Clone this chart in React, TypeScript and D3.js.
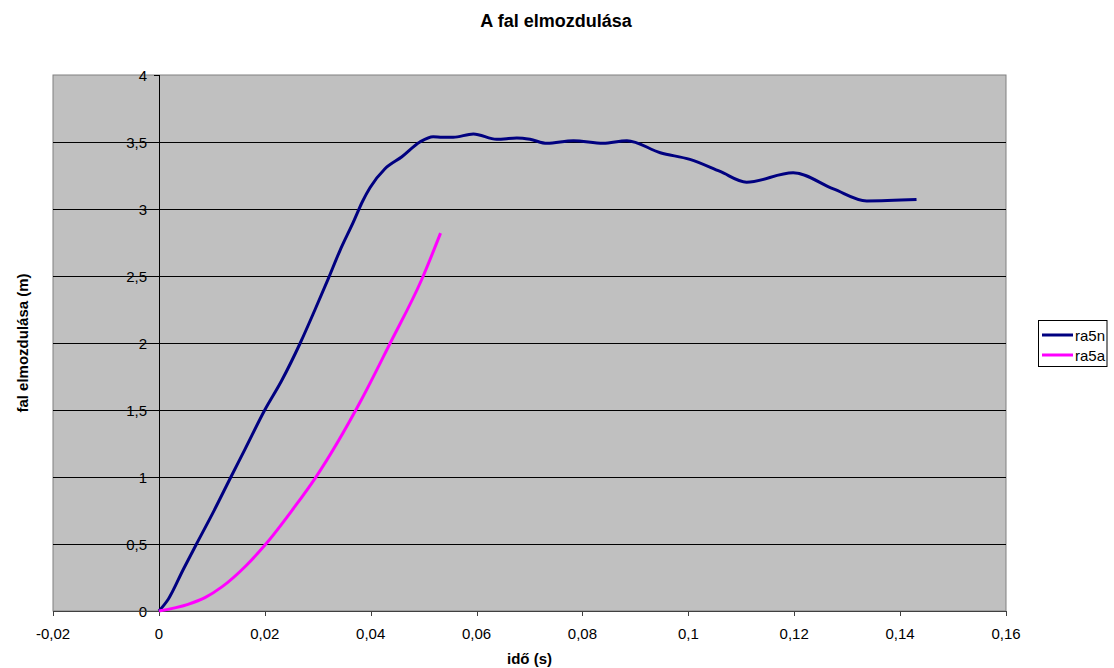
import React from "react";
import * as d3 from "d3";

const ra5nT = [0, 0.0018, 0.0046, 0.0071, 0.0103, 0.0136, 0.0163, 0.02, 0.0232, 0.0267, 0.0295, 0.032, 0.0342, 0.0367, 0.0385, 0.0399, 0.0427, 0.0459, 0.0493, 0.0518, 0.0535, 0.0556, 0.0594, 0.0638, 0.0676, 0.0701, 0.0733, 0.0783, 0.0839, 0.0884, 0.0947, 0.1003, 0.106, 0.111, 0.1198, 0.1274, 0.1337, 0.1431];
const ra5nY = [0, 0.09, 0.31, 0.5, 0.74, 1.0, 1.21, 1.5, 1.72, 2.0, 2.25, 2.48, 2.69, 2.9, 3.06, 3.16, 3.3, 3.39, 3.5, 3.54, 3.535, 3.535, 3.56, 3.52, 3.53, 3.52, 3.49, 3.51, 3.49, 3.51, 3.42, 3.37, 3.28, 3.2, 3.27, 3.15, 3.06, 3.07];

const ra5aT = [0, 0.0055, 0.0087, 0.0119, 0.0165, 0.02, 0.0257, 0.0295, 0.0383, 0.0437, 0.0496, 0.0532];
const ra5aY = [0, 0.05, 0.1, 0.18, 0.34, 0.49, 0.78, 0.99, 1.58, 2.0, 2.47, 2.82];

const xTicks = [-0.02, 0, 0.02, 0.04, 0.06, 0.08, 0.1, 0.12, 0.14, 0.16];
const yTicks = [0, 0.5, 1, 1.5, 2, 2.5, 3, 3.5, 4];

const seriesNames = ["ra5n", "ra5a"];
const seriesColors = ["#000080", "#FF00FF"];

const W = 1114;
const H = 668;
const PL = 53, PR = 1006, PT = 75, PB = 611;

const fmt = (v: number) => String(Math.round(v * 1000) / 1000).replace(".", ",");

export default function App() {
  const x = d3.scaleLinear().domain([-0.02, 0.16]).range([PL, PR]);
  const y = d3.scaleLinear().domain([0, 4]).range([PB, PT]);
  const line = d3
    .line<[number, number]>()
    .x((d) => x(d[0]))
    .y((d) => y(d[1]))
    .curve(d3.curveMonotoneX);
  const s1: [number, number][] = ra5nT.map((t, i) => [t, ra5nY[i]]);
  const s2: [number, number][] = ra5aT.map((t, i) => [t, ra5aY[i]]);
  const font = "'Liberation Sans', Arial, sans-serif";
  const x0 = x(0);
  return (
    <svg width={W} height={H} style={{ position: "absolute", left: 0, top: 0, background: "#fff" }} fontFamily={font}>
      <text x={556} y={27} textAnchor="middle" fontSize={18} fontWeight="bold">A fal elmozdulása</text>
      <rect x={PL} y={PT} width={PR - PL} height={PB - PT} fill="#C0C0C0" stroke="#808080" strokeWidth={1} />
      {yTicks.filter((v) => v > 0 && v < 4).map((v) => (
        <line key={"g" + v} x1={PL} x2={PR} y1={Math.round(y(v)) + 0.5} y2={Math.round(y(v)) + 0.5} stroke="#000" strokeWidth={1} />
      ))}
      <line x1={Math.round(x0) + 0.5} x2={Math.round(x0) + 0.5} y1={PT} y2={PB} stroke="#000" strokeWidth={1} />
      {yTicks.map((v) => (
        <g key={"yt" + v}>
          <line x1={Math.round(x0) - 5} x2={Math.round(x0) + 0.5} y1={Math.round(y(v)) + 0.5} y2={Math.round(y(v)) + 0.5} stroke="#000" />
          <text x={Math.round(x0) - 12} y={y(v) + 5.5} textAnchor="end" fontSize={15}>{fmt(v)}</text>
        </g>
      ))}
      <line x1={PL} x2={PR} y1={PB + 0.5} y2={PB + 0.5} stroke="#404040" strokeWidth={1} />
      {xTicks.map((v) => (
        <g key={"xt" + v}>
          <line x1={Math.round(x(v)) + 0.5} x2={Math.round(x(v)) + 0.5} y1={PB} y2={PB + 5} stroke="#404040" />
          <text x={x(v)} y={639} textAnchor="middle" fontSize={15}>{fmt(v)}</text>
        </g>
      ))}
      <text x={(PL + PR) / 2} y={664} textAnchor="middle" fontSize={15} fontWeight="bold">idő (s)</text>
      <text transform={`translate(28, ${(PT + PB) / 2}) rotate(-90)`} textAnchor="middle" fontSize={15} fontWeight="bold">fal elmozdulása (m)</text>
      <path d={line(s1) || ""} fill="none" stroke={seriesColors[0]} strokeWidth={3} strokeLinejoin="round" />
      <path d={line(s2) || ""} fill="none" stroke={seriesColors[1]} strokeWidth={3} strokeLinejoin="round" />
      <rect x={1038.5} y={320.5} width={68.5} height={46} fill="#fff" stroke="#000" strokeWidth={1} />
      {seriesNames.map((n, i) => (
        <g key={n}>
          <line x1={1042} x2={1073} y1={335 + i * 20} y2={335 + i * 20} stroke={seriesColors[i]} strokeWidth={3} />
          <text x={1075} y={340.5 + i * 20} fontSize={15}>{n}</text>
        </g>
      ))}
    </svg>
  );
}
